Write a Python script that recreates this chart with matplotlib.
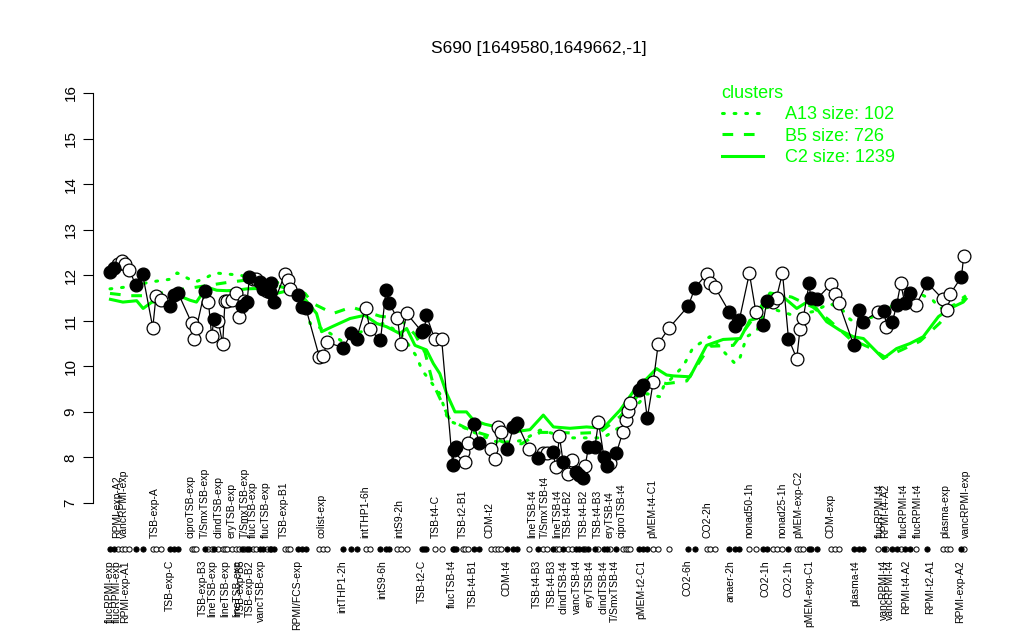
import numpy as np
import matplotlib
matplotlib.use("Agg")
import matplotlib.pyplot as plt

plt.rcParams["font.family"] = ["Liberation Sans", "DejaVu Sans"]

GREEN = "#00ff00"

# ── sample positions, expression values, filled marker flag ────────────────
pos = [3.8, 4.6, 5.5, 6.4, 7.0, 7.9, 9.3, 10.8, 13.0, 13.7, 14.7, 16.7, 17.6, 18.5,
       21.5, 22.0, 22.5, 24.3, 25.1, 25.8, 26.3, 27.2, 28.2, 28.7, 29.2, 30.2, 31.0,
       31.8, 32.5, 32.8, 33.5, 34.0, 34.8, 35.4, 36.3, 36.9, 37.8, 38.5, 38.8, 39.4,
       41.7, 42.5, 42.8, 44.6, 45.4, 46.3, 49.2, 50.1, 50.8, 54.4, 56.2, 57.3, 59.3,
       60.2, 62.5, 63.7, 64.4, 66.2, 66.9, 68.2, 71.5, 72.0, 72.5, 74.3, 75.8, 78.2,
       78.5, 78.9, 80.5, 80.9, 81.6, 82.8, 84.0, 86.5, 87.4, 88.1, 88.8, 90.1, 91.4,
       92.2, 94.8, 96.8, 97.8, 98.6, 99.9, 100.7, 101.4, 102.2, 103.2, 104.1, 105.0,
       105.7, 106.5, 107.0, 107.7, 109.1, 109.9, 111.1, 111.8, 112.5, 113.8, 115.2,
       115.9, 116.4, 116.7, 118.8, 119.6, 120.5, 121.8, 122.9, 125.3, 129.4, 130.9,
       133.4, 134.1, 135.2, 138.3, 139.6, 140.5, 142.7, 144.1, 145.6, 146.5, 147.8,
       148.6, 149.9, 151.2, 153.0, 153.7, 154.4, 155.7, 156.0, 157.3, 160.4, 161.3,
       162.2, 165.4, 166.6, 167.3, 170.7, 172.0, 172.5, 173.8, 174.7, 175.6, 176.5,
       177.6, 178.9, 181.4, 184.8, 185.7, 186.3, 188.8, 189.3]
expr = [12.07, 12.15, 12.24, 12.31, 12.24, 12.12, 11.78, 12.02, 10.85, 11.54, 11.45,
        11.32, 11.56, 11.61, 10.94, 10.60, 10.85, 11.66, 11.41, 10.67, 11.03, 11.00,
        10.49, 11.44, 11.44, 11.45, 11.62, 11.09, 11.32, 11.44, 11.41, 11.95, 11.91,
        11.91, 11.85, 11.69, 11.66, 11.63, 11.82, 11.41, 12.02, 11.89, 11.69, 11.56,
        11.30, 11.27, 10.21, 10.22, 10.53, 10.41, 10.73, 10.61, 11.29, 10.81, 10.57,
        11.67, 11.38, 11.05, 10.50, 11.16, 10.76, 10.79, 11.12, 10.59, 10.59, 7.83,
        8.16, 8.22, 8.13, 7.91, 8.32, 8.73, 8.32, 8.18, 7.96, 8.66, 8.56, 8.18, 8.67,
        8.75, 8.18, 7.98, 8.10, 8.09, 8.13, 7.78, 8.47, 7.91, 7.64, 7.94, 7.69, 7.61,
        7.54, 7.81, 8.22, 8.22, 8.78, 8.00, 7.81, 7.87, 8.10, 8.56, 8.82, 9.02, 9.19,
        9.49, 9.59, 8.86, 9.66, 10.50, 10.85, 11.32, 11.73, 12.02, 11.82, 11.74, 11.20,
        10.88, 11.01, 12.04, 11.20, 10.90, 11.44, 11.41, 11.51, 12.05, 10.61, 10.17,
        10.81, 11.05, 11.83, 11.51, 11.47, 11.80, 11.58, 11.38, 10.46, 11.23, 10.98,
        11.20, 11.22, 10.87, 10.98, 11.34, 11.82, 11.38, 11.60, 11.34, 11.83, 11.47,
        11.23, 11.58, 11.96, 12.42]
filled = "FFOOOOFFOOOFFFOOOFOOFOOOOOOOFOFFOOFFOFFFOOOFFFOOOFFFOOFFFOOOFFFOOFFFOOOFFOOOOFFFOFOOFOOFOOFFFOFFOFFOFOOOOFFFOOOFFOOOFFFOOFFOOOFOOOFFFOOOFFFOFOFFOFFOFOOOFO"
filled = [c == "F" for c in filled]

# ── cluster profiles (position, value) ─────────────────────────────────────
c2_pos = [3.8, 6.5, 9.5, 10.9, 12.8, 16.0, 18.9, 21.1, 22.5, 24.7, 26.9, 29.1, 31.2,
          33.4, 36.3, 39.9, 42.8, 45.7, 48.6, 49.7, 52.2, 55.9, 59.1, 61.7, 63.8,
          66.7, 68.2, 70.0, 72.5, 74.0, 75.4, 76.9, 78.7, 81.2, 82.7, 85.2, 87.8,
          91.4, 95.0, 97.9, 100.1, 103.7, 107.3, 110.9, 114.6, 118.2, 120.4, 122.5,
          124.7, 126.2, 129.8, 133.4, 137.0, 140.7, 142.8, 144.3, 147.2, 150.1, 153.0,
          155.2, 157.3, 159.5, 162.4, 165.3, 167.5, 171.8, 174.7, 177.6, 180.5, 183.8,
          186.3, 189.2, 189.8]
c2_val = [11.47, 11.41, 11.44, 11.27, 11.41, 11.41, 11.54, 11.45, 11.41, 11.74, 11.67,
          11.66, 11.67, 11.70, 11.71, 11.60, 11.67, 11.52, 11.16, 10.76, 10.88, 11.05,
          11.12, 10.94, 10.87, 10.72, 10.83, 10.46, 10.36, 10.06, 9.84, 9.40, 9.00,
          9.00, 8.82, 8.73, 8.67, 8.56, 8.61, 8.93, 8.67, 8.64, 8.67, 8.64, 9.04, 9.55,
          9.73, 9.95, 9.81, 9.79, 9.77, 10.46, 10.59, 10.61, 11.01, 11.05, 11.60, 11.52,
          11.27, 11.41, 11.27, 10.98, 10.79, 10.65, 10.61, 10.17, 10.39, 10.50, 10.65,
          11.09, 11.27, 11.41, 11.48]
b5_pos = [3.7, 8.0, 12.4, 16.7, 23.3, 29.8, 34.1, 38.5, 42.8, 46.1, 47.8, 52.2, 56.2,
          62.4, 66.7, 70.0, 72.2, 73.9, 77.6, 82.0, 85.6, 89.1, 93.2, 97.2, 101.5,
          105.2, 110.2, 114.6, 118.0, 121.1, 124.7, 129.1, 134.1, 139.2, 142.8, 147.2,
          151.9, 156.5, 160.2, 164.6, 168.9, 172.2, 175.8, 179.8, 184.1, 187.8, 189.8]
b5_val = [11.60, 11.55, 11.55, 11.65, 11.75, 11.85, 11.90, 11.80, 11.70, 11.60, 11.38,
          11.16, 11.30, 11.10, 11.05, 10.70, 10.30, 9.63, 8.82, 8.60, 8.49, 8.34, 8.30,
          8.55, 8.55, 8.53, 8.55, 8.90, 9.30, 9.70, 9.62, 9.68, 10.44, 10.46, 10.95,
          11.61, 11.52, 11.30, 11.00, 10.60, 10.41, 10.20, 10.36, 10.55, 10.95, 11.41,
          11.55]
a13_pos = [3.7, 8.0, 12.4, 16.7, 18.3, 22.2, 24.7, 26.5, 32.0, 36.3, 42.8, 46.1, 47.2,
           50.4, 54.3, 59.1, 63.0, 66.7, 70.4, 71.5, 75.4, 77.2, 82.6, 87.8, 91.3, 93.5,
           97.2, 103.7, 110.9, 114.6, 117.4, 120.4, 123.3, 124.0, 128.3, 130.4, 134.1,
           137.8, 139.6, 140.7, 142.1, 144.3, 146.5, 152.2, 156.5, 160.2, 163.0, 164.6,
           166.0, 169.6, 173.3, 176.9, 180.4, 182.6, 184.1, 187.0, 189.8]
a13_val = [11.70, 11.75, 11.85, 11.91, 12.05, 11.85, 11.95, 12.05, 12.00, 11.90, 11.80,
           11.40, 10.94, 10.80, 10.54, 10.80, 10.94, 10.75, 10.21, 9.92, 9.40, 8.82,
           8.56, 8.34, 8.34, 8.38, 8.60, 8.43, 8.43, 8.67, 9.04, 9.40, 9.33, 9.55, 10.00,
           10.40, 10.65, 10.25, 10.06, 10.20, 10.65, 10.78, 11.30, 11.12, 11.20, 11.38,
           11.23, 11.03, 10.95, 11.09, 11.30, 11.52, 11.56, 11.45, 11.27, 11.34, 11.50]

# ── sample labels ──────────────────────────────────────────────────────────
top_names = ["RPMI-exp-A2", "vancRPMI-exp", "TSB-exp-A", "ciproTSB-exp", "T/SmxTSB-exp",
             "clindTSB-exp", "eryTSB-exp", "T/SmxTSB-exp", "flucTSB-exp", "flucTSB-exp",
             "TSB-exp-B1", "colist-exp", "intTHP1-6h", "intS9-2h", "TSB-t4-C",
             "TSB-t2-B1", "CDM-t2", "lineTSB-t4", "T/SmxTSB-t4", "lineTSB-t4",
             "TSB-t4-B2", "TSB-t4-B2", "TSB-t4-B3", "eryTSB-t4", "ciproTSB-t4",
             "pMEM-t4-C1", "CO2-2h", "nonad50-1h", "nonad25-1h", "pMEM-exp-C2",
             "CDM-exp", "flucRPMI-t4", "RPMI-t4-A2", "flucRPMI-t4", "flucRPMI-t4",
             "plasma-exp", "vancRPMI-exp"]
top_pos = [5.2, 6.7, 13.5, 21.3, 24.3, 27.2, 30.2, 33.0, 34.8, 37.6, 41.5, 49.6, 59.3,
           66.5, 74.6, 80.4, 86.3, 95.4, 98.3, 100.9, 103.3, 106.7, 109.8, 112.4, 114.8,
           121.7, 133.5, 142.6, 149.8, 153.3, 160.4, 171.1, 172.2, 176.3, 179.3, 185.2,
           189.8]
bot_names = ["flucRPMI-exp", "flucRPMI-exp", "RPMI-exp-A1", "TSB-exp-C", "TSB-exp-B3",
             "lineTSB-exp", "lineTSB-exp", "lineTSB-exp", "TSB-exp-B5", "TSB-exp-B2",
             "vancTSB-exp", "RPMI/FCS-exp", "intTHP1-2h", "intS9-6h", "TSB-t2-C",
             "flucTSB-t4", "TSB-t4-B1", "CDM-t4", "TSB-t4-B3", "TSB-t4-B3",
             "clindTSB-t4", "vancTSB-t4", "eryTSB-t4", "clindTSB-t4", "T/SmxTSB-t4",
             "pMEM-t2-C1", "CO2-6h", "anaer-2h", "CO2-1h", "CO2-1h", "pMEM-exp-C1",
             "plasma-t4", "vancRPMI-t4", "vancRPMI-t4", "RPMI-t4-A2", "RPMI-t2-A1",
             "RPMI-exp-A2"]
bot_pos = [3.7, 5.2, 7.0, 16.7, 23.9, 25.9, 28.7, 31.3, 32.2, 34.1, 36.5, 44.3, 54.3,
           62.8, 71.5, 78.0, 82.6, 90.0, 96.5, 99.8, 102.2, 105.2, 108.0, 110.9, 113.5,
           119.3, 129.3, 138.5, 146.3, 151.3, 155.7, 165.7, 172.0, 173.3, 176.7, 182.0,
           188.5]

pos = np.array(pos)
expr = np.array(expr)
filled = np.array(filled)

fig = plt.figure(figsize=(10.24, 6.4), dpi=100)
ax = fig.add_axes([0.0908, 0.1884, 0.871, 0.692])
ax.set_xlim(0, 193.9)
ax.set_ylim(6.64, 16.36)

# cluster profiles
l_a13, = ax.plot(a13_pos, a13_val, color=GREEN, lw=2.2, ls=(0, (0.6, 3.2)),
                 dash_capstyle="round", label="A13 size: 102")
l_b5, = ax.plot(b5_pos, b5_val, color=GREEN, lw=2.2, ls=(0, (3.5, 3.5)),
                label="B5 size: 726")
l_c2, = ax.plot(c2_pos, c2_val, color=GREEN, lw=2.2, label="C2 size: 1239")

# gene profile
ax.plot(pos, expr, color="black", lw=0.9, zorder=3)
ax.scatter(pos[~filled], expr[~filled], s=85, facecolor="white", edgecolor="black",
           lw=0.9, zorder=4)
ax.scatter(pos[filled], expr[filled], s=85, facecolor="black", edgecolor="black",
           lw=0.9, zorder=5)

# sample marker row and labels below the plot
row_y = 5.99
ax.scatter(pos[~filled], np.full((~filled).sum(), row_y), s=14, facecolor="white",
           edgecolor="black", lw=0.7, clip_on=False, zorder=4)
ax.scatter(pos[filled], np.full(filled.sum(), row_y), s=14, facecolor="black",
           edgecolor="black", lw=0.7, clip_on=False, zorder=5)
for name, x in zip(top_names, top_pos):
    ax.text(x, 6.23, name, rotation=90, ha="center", va="bottom", fontsize=7.5,
            clip_on=False)
for name, x in zip(bot_names, bot_pos):
    ax.text(x, 5.75, name, rotation=90, ha="center", va="top", fontsize=7.5,
            clip_on=False)

# axes styling (R-like)
for side in ["top", "right", "bottom"]:
    ax.spines[side].set_visible(False)
ax.spines["left"].set_bounds(7, 16)
ax.set_xticks([])
ax.set_yticks(range(7, 17))
ax.tick_params(axis="y", length=7, labelsize=11, pad=4)
for lbl in ax.get_yticklabels():
    lbl.set_rotation(90)
    lbl.set_va("center")

ax.set_title("S690 [1649580,1649662,-1]", fontsize=12.5, pad=17)

leg = ax.legend(handles=[l_a13, l_b5, l_c2], title="clusters", loc="upper left",
                bbox_to_anchor=(0.696, 0.882), bbox_transform=fig.transFigure,
                frameon=False, fontsize=13, title_fontsize=13, handlelength=2.3,
                handletextpad=1.2, labelspacing=0.25, borderpad=0, alignment="left",
                labelcolor=GREEN)
leg.get_title().set_color(GREEN)

fig.savefig("out.png", dpi=100)
